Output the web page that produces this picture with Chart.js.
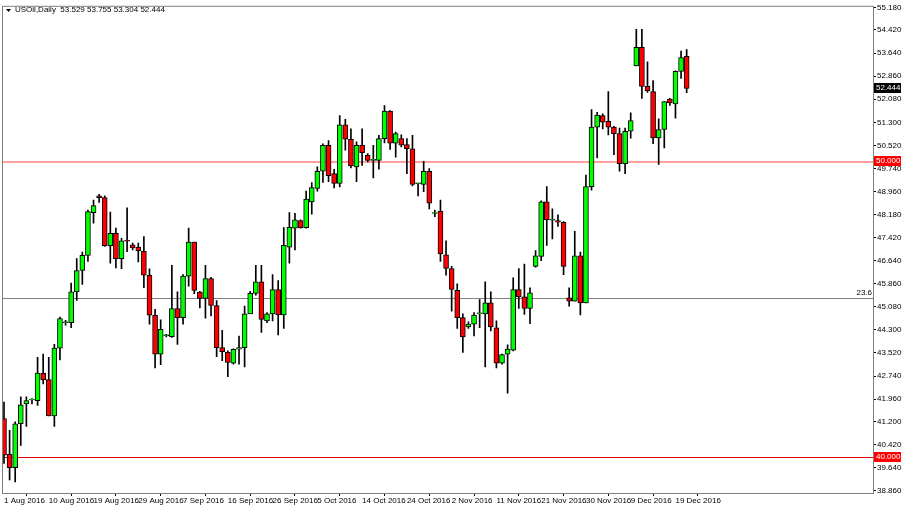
<!DOCTYPE html>
<html><head><meta charset="utf-8">
<script src="https://cdn.jsdelivr.net/npm/chart.js@4.4.1/dist/chart.umd.min.js"></script>
<style>html,body{margin:0;padding:0;background:#fff}#c{display:block}</style>
</head><body>
<canvas id="c" width="902" height="509"></canvas>
<script>
const opens  = [41.30,40.10,39.65,41.13,41.80,41.93,41.91,42.84,42.62,41.39,43.68,44.54,44.54,45.58,46.30,46.81,48.25,48.82,48.76,47.14,47.56,46.70,47.30,47.17,47.09,46.95,46.14,44.79,43.48,44.10,44.07,45.02,44.71,46.11,47.26,45.57,45.36,46.03,45.12,43.70,43.54,43.17,43.65,43.70,44.84,45.53,45.92,44.60,44.84,45.66,44.80,47.09,47.73,47.99,47.75,48.62,49.07,49.65,50.53,49.57,49.24,51.22,50.73,49.80,50.53,50.19,50.02,50.02,50.75,51.68,50.60,50.75,50.55,50.41,49.23,49.21,49.65,48.23,48.31,46.83,46.37,45.63,44.71,44.40,44.49,44.84,44.84,45.21,44.37,43.17,43.48,43.61,45.66,45.41,45.02,46.44,46.78,48.62,48.00,47.99,47.93,45.38,45.27,46.80,45.21,49.13,51.14,51.53,51.34,51.14,50.92,49.91,51.00,53.21,53.83,52.52,52.34,50.78,51.06,52.09,51.92,53.02,53.529];
const highs  = [41.86,40.91,41.19,42.04,42.04,41.98,43.37,43.48,43.37,43.81,44.73,44.62,45.88,46.70,46.92,48.34,48.68,48.87,48.82,48.27,47.73,47.39,48.42,47.23,47.23,47.45,46.36,44.99,44.64,44.15,46.48,45.58,46.16,47.73,47.26,45.60,46.48,46.07,45.29,44.28,43.59,43.66,44.09,45.10,45.60,46.48,46.48,44.88,46.16,45.96,47.75,48.26,48.23,48.01,48.98,49.27,49.80,50.58,50.69,49.72,51.53,51.40,51.08,50.64,51.08,50.25,50.53,50.86,51.87,51.70,50.97,50.88,50.75,50.86,49.24,49.99,49.74,48.34,48.68,47.30,46.44,45.85,44.84,44.57,44.88,45.32,45.92,45.58,44.60,43.48,43.79,46.05,46.37,46.52,45.72,46.97,48.65,49.13,48.38,48.18,47.95,45.72,47.62,46.92,49.52,51.73,51.64,51.59,52.34,51.17,51.11,51.11,51.62,54.44,54.44,53.34,52.71,51.42,52.00,52.11,53.04,53.71,53.755];
const lows   = [39.79,39.23,39.17,40.40,41.04,41.80,41.75,42.47,41.39,41.04,43.28,44.46,44.37,45.29,45.83,46.61,47.90,48.60,47.11,46.55,46.39,46.36,46.94,47.00,46.59,45.72,44.49,43.01,43.12,44.06,44.04,43.81,44.49,45.77,45.52,45.04,44.69,44.77,43.39,43.26,42.72,43.14,43.14,43.05,45.10,45.47,44.21,44.54,44.60,44.13,44.35,46.55,47.00,47.73,47.73,48.20,48.98,49.27,49.30,49.09,49.12,50.36,49.76,49.30,49.85,49.97,49.43,49.72,50.61,50.39,50.13,50.47,49.57,49.16,48.82,48.96,48.38,48.12,46.61,46.14,44.93,44.35,43.54,44.35,44.09,44.37,43.05,44.26,43.01,43.14,42.16,43.59,45.02,44.82,44.51,46.41,46.63,47.15,47.37,47.79,46.16,45.10,45.27,44.80,45.21,49.01,50.10,51.08,50.88,50.21,49.65,49.57,50.77,53.21,52.11,52.31,50.58,49.88,50.44,51.87,51.44,52.78,52.304];
const closes = [40.07,39.65,41.13,41.77,41.91,41.94,42.84,42.61,41.39,43.68,44.68,44.55,45.58,46.30,46.81,48.29,48.49,48.76,47.14,47.56,46.70,47.30,47.29,47.06,46.97,46.14,44.79,43.48,44.32,44.10,45.02,44.71,46.11,47.26,45.63,45.36,46.03,45.12,43.70,43.56,43.20,43.64,43.70,44.84,45.53,45.92,44.65,44.84,45.66,44.80,47.15,47.76,48.01,47.75,48.71,49.10,49.65,50.53,49.50,49.24,51.22,50.73,49.83,50.53,50.28,50.02,50.02,50.75,51.68,50.60,50.92,50.53,50.41,49.21,49.23,49.65,48.57,48.23,46.86,46.37,45.66,44.71,44.06,44.49,44.80,44.84,45.21,44.40,43.17,43.46,43.65,45.66,45.41,45.02,45.55,46.80,48.62,48.01,48.00,47.93,46.44,45.27,46.80,45.21,49.13,51.14,51.55,51.31,51.14,50.92,49.91,51.00,51.36,53.83,52.51,52.37,50.78,51.06,52.00,51.96,53.02,53.49,52.444];
const dateTicks = [0,8,16,24,32,40,48,56,64,72,80,88,96,104,112,120];
const dateLabels = ["1 Aug 2016","10 Aug 2016","19 Aug 2016","29 Aug 2016","7 Sep 2016","16 Sep 2016","26 Sep 2016","5 Oct 2016","14 Oct 2016","24 Oct 2016","2 Nov 2016","11 Nov 2016","21 Nov 2016","30 Nov 2016","9 Dec 2016","19 Dec 2016"];
const priceTicks = [55.180,54.420,53.640,52.860,52.080,51.300,50.520,49.740,48.960,48.180,47.420,46.640,45.860,45.080,44.300,43.520,42.740,41.960,41.200,40.420,39.640,38.860];
const levelLines = [50.000, 40.000];
const fibLevel = 45.37, fibText = "23.6";
const title = "USOil,Daily  53.529 53.755 53.304 52.444";
const lastPrice = 52.444;

const FONT = '"Liberation Sans"';
const wicks = opens.map((o,i)=>({x:i,y:[lows[i],highs[i]]}));
const bodies = opens.map((o,i)=>{const lo=Math.min(o,closes[i]),hi=Math.max(o,closes[i]);return {x:i,y:[lo,hi-lo<0.03?lo+0.03:hi]};});
const bodyColors = opens.map((o,i)=>closes[i]>=o?'#00ff00':'#ff0000');

const overlay = {
  id:'overlay',
  beforeDatasetsDraw(c){
    const ctx=c.ctx, a=c.chartArea, y=c.scales.y;
    ctx.save();
    const lines=[[levelLines[0],'#ff9f9f',2],[levelLines[1],'#e00000',1],[fibLevel,'#808080',1]];
    for(const [v,col,w] of lines){const py=Math.round(y.getPixelForValue(v));ctx.fillStyle=col;ctx.fillRect(a.left,py,a.right-a.left,w);}
    ctx.restore();
  },
  afterDraw(c){
    const ctx=c.ctx, a=c.chartArea, y=c.scales.y;
    ctx.save();
    ctx.strokeStyle='#7f7f7f';ctx.lineWidth=1;
    ctx.strokeRect(a.left+0.5,a.top+0.5,a.right-a.left,a.bottom-a.top);
    ctx.font='8px '+FONT;ctx.textBaseline='middle';
    ctx.fillStyle='#000';
    ctx.beginPath();ctx.moveTo(6,9);ctx.lineTo(11,9);ctx.lineTo(8.5,12);ctx.closePath();ctx.fill();
    ctx.textAlign='left';ctx.fillText(title,15,10);
    ctx.textAlign='right';ctx.fillText(fibText,a.right-1,y.getPixelForValue(fibLevel)-5);
    const boxes=[[lastPrice,'#000'],[levelLines[0],'#ff0000'],[levelLines[1],'#ff0000']];
    ctx.textAlign='left';
    for(const [v,col] of boxes){const py=Math.round(y.getPixelForValue(v));ctx.fillStyle=col;ctx.fillRect(a.right+1,py-5,27,10);ctx.fillStyle='#fff';ctx.fillText(v.toFixed(3),a.right+3,py);}
    ctx.restore();
  }
};

new Chart(document.getElementById('c'),{
  type:'bar',
  data:{datasets:[
    {data:wicks,backgroundColor:'#000',barThickness:1,grouped:false,order:2},
    {data:bodies,backgroundColor:bodyColors,borderColor:'#000',borderWidth:1,borderSkipped:false,barThickness:5,grouped:false,order:1}
  ]},
  options:{
    responsive:false,animation:false,
    layout:{padding:{left:2,top:3,right:0,bottom:0}},
    plugins:{legend:{display:false},tooltip:{enabled:false}},
    scales:{
      x:{type:'linear',min:-0.357,max:155.3,offset:false,
        afterBuildTicks(s){s.ticks=dateTicks.map(v=>({value:v}));},
        afterFit(s){s.height=16;},
        grid:{display:true,drawOnChartArea:false,drawTicks:true,tickLength:3,color:'#000'},
        border:{display:false},
        ticks:{autoSkip:false,maxRotation:0,align:'start',padding:0,color:'#000',font:{family:'Liberation Sans',size:8},
          callback:(v)=>dateLabels[dateTicks.indexOf(v)]}},
      y:{position:'right',min:38.792,max:55.235,
        afterBuildTicks(s){s.ticks=priceTicks.map(v=>({value:v}));},
        afterFit(s){s.width=29;},
        grid:{display:true,drawOnChartArea:false,drawTicks:true,tickLength:3,color:'#000'},
        border:{display:false},
        ticks:{padding:1,color:'#000',font:{family:'Liberation Sans',size:8},callback:v=>v.toFixed(3)}}
    }
  },
  plugins:[overlay]
});
</script>
</body></html>
